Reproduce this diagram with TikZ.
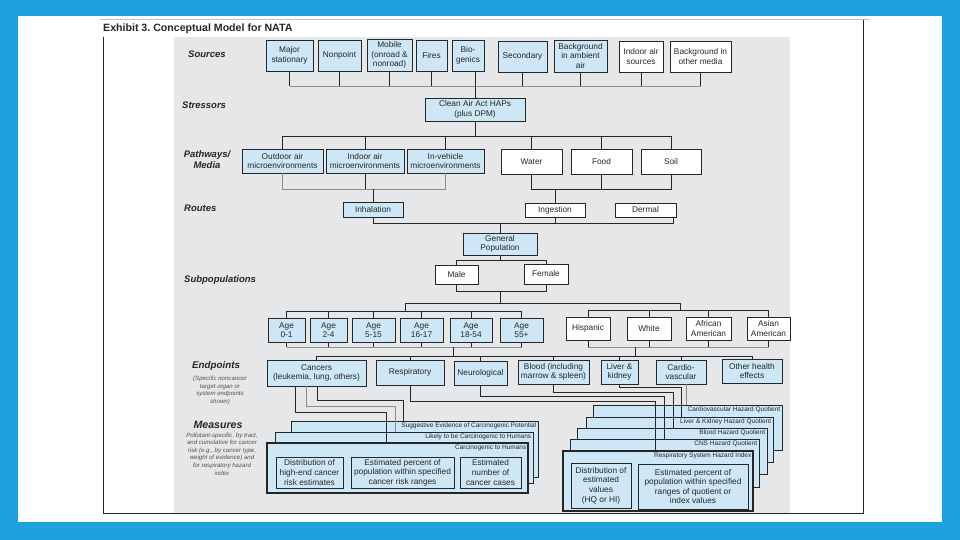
\documentclass[tikz,border=0pt]{standalone}
\usepackage{fontspec}
\setmainfont{Liberation Sans}
\definecolor{bfill}{HTML}{CDE7F6}
\definecolor{panel}{HTML}{E6E7E9}
\definecolor{frameblue}{HTML}{1DA1DF}
\definecolor{ink}{HTML}{262626}
\definecolor{cgray}{HTML}{8C8C8C}
\newcommand\fs{\fontsize{8.3}{9.6}\selectfont}
\tikzset{
 bl/.style={draw=ink, line width=0.9pt, fill=bfill, inner sep=0pt, align=center, font=\fs, text=ink},
 wh/.style={bl, fill=white},
 inb/.style={bl, line width=0.7pt},
 card/.style={draw=ink, line width=0.8pt, fill=bfill, inner sep=0pt},
 fcard/.style={card, line width=1.1pt},
 cn/.style={draw=ink, line width=0.8pt},
 cg/.style={draw=cgray, line width=0.8pt},
 rowlab/.style={font=\bfseries\itshape\fontsize{9.5}{11}\selectfont, text=ink, align=center, inner sep=0pt},
 note/.style={font=\itshape\fontsize{6.1}{7.6}\selectfont, text=ink!80, align=center, inner sep=0pt},
 cardtxt/.style={font=\fontsize{6.5}{7}\selectfont, text=ink, anchor=north east, inner sep=0pt},
}
\newcommand\BX[7][bl]{\node[#1,minimum width={#5-#3},minimum height={#6-#4}] (#2) at ({(#3+#5)/2},{(#4+#6)/2}) {#7};}
\frenchspacing
\begin{document}
\begin{tikzpicture}[x=1pt,y=-1pt]
\useasboundingbox (0,0) rectangle (960,540);
\fill[frameblue] (0,0) rectangle (960,540);
\fill[white] (18,16) rectangle (942,522);
\fill[panel] (174,37) rectangle (790,513);
\draw[ink, line width=0.9pt] (103,37) -- (103,513) -- (863,513) -- (863,20);
\draw[gray!50, line width=0.5pt] (100,19) -- (870,19);
\node[anchor=base west, font=\bfseries\fontsize{10.6}{12}\selectfont, text=ink, inner sep=0pt] (title) at (103,31.5) {Exhibit 3. Conceptual Model for NATA};

% row labels
\node[rowlab, anchor=west] (lsrc) at (188,54) {Sources};
\node[rowlab, anchor=west] (lstr) at (182,105) {Stressors};
\node[rowlab] (lpath) at (207,160) {Pathways/\\Media};
\node[rowlab, anchor=west] (lrout) at (184,208) {Routes};
\node[rowlab, anchor=west] (lsub) at (184,280) {Subpopulations};
\node[rowlab, font=\bfseries\itshape\fontsize{9.8}{11}\selectfont] (lend) at (216,366) {Endpoints};
\node[note, anchor=north] (nend) at (220,376) {(Specific noncancer\\target organ or\\system endpoints\\shown)};
\node[rowlab, font=\bfseries\itshape\fontsize{10.6}{12}\selectfont] (lmea) at (218,425) {Measures};
\node[note, anchor=north] (nmea) at (222,432.5) {Pollutant-specific, by tract,\\and cumulative for cancer\\risk (e.g., by cancer type,\\weight of evidence) and\\for respiratory hazard\\index};

% sources
\BX{maj}{266}{40}{313}{71}{Major\\stationary}
\BX{nonp}{318}{40}{361}{71}{Nonpoint}
\BX{mob}{367}{39}{412}{71}{Mobile\\(onroad \&\\nonroad)}
\BX{fire}{416}{40}{447}{71}{Fires}
\BX{bio}{452}{40}{484}{71}{Bio-\\genics}
\BX{sec}{498}{41}{547}{72}{Secondary}
\BX{bga}{554}{40}{607}{72}{Background\\in ambient\\air}
\BX[wh]{ind}{619}{41}{663}{72}{Indoor air\\sources}
\BX[wh]{bgo}{670}{41}{731}{72}{Background in\\other media}
% stressor
\BX{caa}{425}{98}{525}{121}{Clean Air Act HAPs\\(plus DPM)}
% pathways
\BX{out}{242}{149}{323}{173}{Outdoor air\\microenvironments}
\BX{inm}{326}{149}{404}{173}{Indoor air\\microenvironments}
\BX{veh}{407}{149}{484}{173}{In-vehicle\\microenvironments}
\BX[wh]{wat}{501}{149}{562}{174}{Water}
\BX[wh]{food}{571}{149}{632}{174}{Food}
\BX[wh]{soil}{641}{149}{701}{174}{Soil}
% routes
\BX{inh}{343}{202}{403}{217}{Inhalation}
\BX[wh]{ing}{525}{203}{585}{217}{Ingestion}
\BX[wh]{der}{615}{203}{676}{217}{Dermal}
% population
\BX{gp}{463}{233}{537}{255}{General\\Population}
\BX[wh]{male}{435}{265}{478}{284}{Male}
\BX[wh]{fem}{524}{264}{568}{284}{Female}
\BX{a1}{268}{318}{305}{342}{Age\\0-1}
\BX{a2}{310}{318}{347}{342}{Age\\2-4}
\BX{a3}{352}{318}{395}{342}{Age\\5-15}
\BX{a4}{400}{318}{443}{342}{Age\\16-17}
\BX{a5}{450}{318}{492}{342}{Age\\18-54}
\BX{a6}{500}{318}{543}{342}{Age\\55+}
\BX[wh]{his}{566}{317}{610}{340}{Hispanic}
\BX[wh]{whi}{627}{317}{671}{340}{White}
\BX[wh]{afr}{686}{317}{731}{340}{African\\American}
\BX[wh]{asi}{747}{317}{790}{340}{Asian\\American}
% endpoints
\BX{can}{267}{360}{366}{386}{Cancers\\(leukemia, lung, others)}
\BX{res}{376}{360}{444}{385}{Respiratory}
\BX{neu}{454}{361}{507}{385}{Neurological}
\BX{blo}{518}{360}{589}{384}{Blood (including\\marrow \& spleen)}
\BX{liv}{601}{360}{638}{384}{Liver \&\\kidney}
\BX{cv}{656}{360}{706}{384}{Cardio-\\vascular}
\BX{oth}{722}{359}{782}{383}{Other health\\effects}

% cancer cards
\BX[card]{k1}{291}{421}{538}{477}{}
\BX[card]{k2}{275}{432}{533}{483}{}
\BX[fcard]{k3}{267}{443}{528}{493}{}
\node[cardtxt] (t1) at ([xshift=-2pt,yshift=-2pt]k1.north east) {Suggestive Evidence of Carcinogenic Potential};
\node[cardtxt] (t2) at ([xshift=-2pt,yshift=-2pt]k2.north east) {Likely to be Carcinogenic to Humans};
\node[cardtxt] (t3) at ([xshift=-2pt,yshift=-2pt]k3.north east) {Carcinogenic to Humans};
\BX[inb]{d1}{276}{457}{343}{488}{Distribution of\\high-end cancer\\risk estimates}
\BX[inb]{d2}{351}{457}{454}{488}{Estimated percent of\\population within specified\\cancer risk ranges}
\BX[inb]{d3}{460}{457}{521}{488}{Estimated\\number of\\cancer cases}
% hazard cards
\BX[card]{kA}{593}{405}{782}{450}{}
\BX[card]{kB}{586}{417}{773}{462}{}
\BX[card]{kC}{577}{428}{767}{474}{}
\BX[card]{kD}{570}{439}{759}{487}{}
\BX[fcard]{kE}{563}{451}{753}{511}{}
\node[cardtxt] (tA) at ([xshift=-2pt,yshift=-2pt]kA.north east) {Cardiovascular Hazard Quotient};
\node[cardtxt] (tB) at ([xshift=-2pt,yshift=-2pt]kB.north east) {Liver \& Kidney Hazard Quotient};
\node[cardtxt] (tC) at ([xshift=-2pt,yshift=-2pt]kC.north east) {Blood Hazard Quotient};
\node[cardtxt] (tD) at ([xshift=-2pt,yshift=-2pt]kD.north east) {CNS Hazard Quotient};
\node[cardtxt] (tE) at ([xshift=-2pt,yshift=-2pt]kE.north east) {Respiratory System Hazard Index};
\BX[inb]{e1}{571}{463}{631}{508}{Distribution of\\estimated\\values\\(HQ or HI)}
\BX[inb]{e2}{638}{464}{748}{509}{Estimated percent of\\population within specified\\ranges of quotient or\\index values}

% ---------- connectors ----------
\coordinate (sb) at (0,86);
\draw[cg] (maj.south |- sb) -- (bgo.south |- sb);
\foreach \s in {maj,nonp,mob,fire,sec,bga,ind,bgo} \draw[cn] (\s.south) -- (\s.south |- sb);
\draw[cn] (caa.north |- bio.south) -- (caa.north);
\coordinate (pb) at (0,136);
\draw[cn] (caa.south) -- (caa.south |- pb);
\draw[cn] (out.north |- pb) -- (soil.north |- pb);
\foreach \s in {out,inm,veh,wat,food,soil} \draw[cn] (\s.north |- pb) -- (\s.north);
\coordinate (rb) at (0,189);
\draw[cg] (out.south) -- (out.south |- rb) -- (veh.south |- rb) -- (veh.south);
\draw[cn] (inm.south) -- (inm.south |- rb);
\draw[cn] (inh.north |- rb) -- (inh.north);
\draw[cn] (wat.south) -- (wat.south |- rb) -- (soil.south |- rb) -- (soil.south);
\draw[cn] (food.south) -- (food.south |- rb);
\draw[cn] (ing.north |- rb) -- (ing.north);
\coordinate (gb) at (0,223);
\coordinate (dx) at (673,0);
\draw[cn] (inh.south) -- (inh.south |- gb) -- (dx |- gb) -- (der.south -| dx);
\draw[cn] (ing.south) -- (ing.south |- gb);
\draw[cn] (gp.north |- gb) -- (gp.north);
\coordinate (mb1) at (0,260);
\coordinate (mb2) at (0,291);
\coordinate (mb3) at (0,303);
\draw[cn] (gp.south) -- (gp.south |- mb1);
\draw[cn] (male.north) -- (male.north |- mb1) -- (fem.north |- mb1) -- (fem.north);
\draw[cn] (male.south) -- (male.south |- mb2) -- (fem.south |- mb2) -- (fem.south);
\draw[cn] (gp.south |- mb2) -- (gp.south |- mb3);
\coordinate (ua) at (405,303);
\coordinate (ue) at (680,303);
\coordinate (ab) at (0,311);
\coordinate (eb) at (0,310);
\draw[cn] (ua) -- (ue);
\draw[cn] (ua) -- (ua |- ab);
\draw[cn] (ue) -- (ue |- eb);
\draw[cn] (a1.north |- ab) -- (a6.north |- ab);
\foreach \s in {a1,a2,a3,a4,a5,a6} \draw[cn] (\s.north |- ab) -- (\s.north);
\draw[cn] (his.north |- eb) -- (asi.north |- eb);
\foreach \s in {his,whi,afr,asi} \draw[cn] (\s.north |- eb) -- (\s.north);
\coordinate (bb) at (0,347);
\draw[cg] (a1.south |- bb) -- (a6.south |- bb);
\foreach \s in {a1,a2,a3,a4,a5,a6} \draw[cn] (\s.south) -- (\s.south |- bb);
\draw[cg] (his.south |- bb) -- (asi.south |- bb);
\foreach \s in {his,whi,afr,asi} \draw[cn] (\s.south) -- (\s.south |- bb);
\coordinate (epb) at (0,356);
\coordinate (ac) at (453,347);
\coordinate (ec) at (635,347);
\draw[cn] (ac) -- (ac |- epb);
\draw[cn] (ec) -- (ec |- epb);
\draw[cn] (can.north |- epb) -- (oth.north |- epb);
\foreach \s in {can,res,neu,blo,liv,cv,oth} \draw[cn] (\s.north |- epb) -- (\s.north);
% endpoints to measures
\draw[cn] (can.south -| 295,0) |- (386,412) -- (k3.north -| 386,0);
\draw[cg] (can.south -| 306,0) |- (395,406) -- (k2.north -| 395,0);
\draw[cn] (can.south -| 317,0) |- (403,400) -- (k1.north -| 403,0);
\draw[cn] (res.south) |- (655,401) -- (kE.north -| 655,0);
\draw[cn] (neu.south) |- (664,396) -- (kD.north -| 664,0);
\draw[cn] (blo.south) |- (673,392) -- (kC.north -| 673,0);
\draw[cn] (liv.south) |- (681,387) -- (kB.north -| 681,0);
\draw[cg] (cv.south -| 686,0) -- (kA.north -| 686,0);
\end{tikzpicture}
\end{document}
